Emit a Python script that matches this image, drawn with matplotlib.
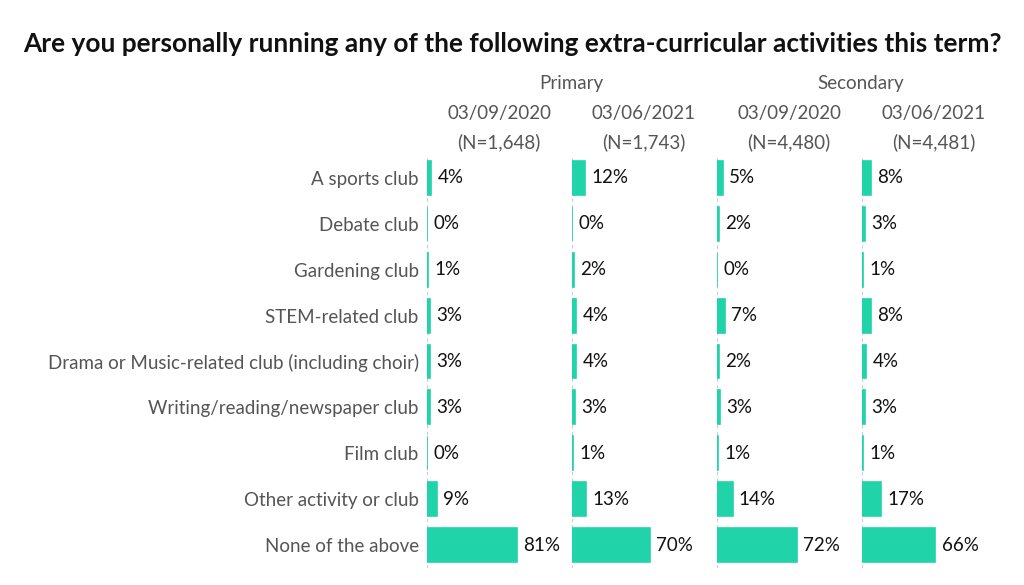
import matplotlib.pyplot as plt

plt.rcParams['font.family'] = ['Lato', 'DejaVu Sans']

activities = [
    "A sports club",
    "Debate club",
    "Gardening club",
    "STEM-related club",
    "Drama or Music-related club (including choir)",
    "Writing/reading/newspaper club",
    "Film club",
    "Other activity or club",
    "None of the above",
]

groups = ["Primary", "Secondary"]
dates = ["03/09/2020", "03/06/2021", "03/09/2020", "03/06/2021"]
sizes = ["(N=1,648)", "(N=1,743)", "(N=4,480)", "(N=4,481)"]

primary_2020 = [4, 0, 1, 3, 3, 3, 0, 9, 81]
primary_2021 = [12, 0, 2, 4, 4, 3, 1, 13, 70]
secondary_2020 = [5, 2, 0, 7, 2, 3, 1, 14, 72]
secondary_2021 = [8, 3, 1, 8, 4, 3, 1, 17, 66]
series = [primary_2020, primary_2021, secondary_2020, secondary_2021]

bar_color = "#21d3a8"
label_gray = "#555555"
fs = 13.5

W, H = 1024, 585
fig = plt.figure(figsize=(W / 100, H / 100), dpi=100)

fig.text(23 / W, 1 - 44 / H,
         "Are you personally running any of the following extra-curricular activities this term?",
         fontsize=18.9, fontweight="bold", ha="left", va="center", color="#111111")

panel_left = 427
panel_step = 145
top, bottom = 155, 568
ypos = list(range(len(activities)))

for i, vals in enumerate(series):
    left = panel_left + panel_step * i
    ax = fig.add_axes([left / W, 1 - bottom / H, panel_step / W, (bottom - top) / H])
    ax.barh(ypos, vals, height=0.74, color=bar_color, edgecolor=bar_color, linewidth=1.2)
    for y, v in zip(ypos, vals):
        ax.annotate(f"{v}%", (v, y), xytext=(4.5, 0), textcoords="offset points",
                    ha="left", va="center", fontsize=fs, color="#111111")
    ax.set_xlim(0, 130.6)
    ax.set_ylim(len(activities) - 0.5, -0.5)
    ax.axvline(0, color="#cccccc", linestyle=(0, (3, 3)), linewidth=0.8, zorder=0)
    for s in ax.spines.values():
        s.set_visible(False)
    ax.set_xticks([])
    if i == 0:
        ax.set_yticks(ypos)
        ax.set_yticklabels(activities, fontsize=fs, color=label_gray)
        ax.tick_params(axis="y", length=0, pad=6)
    else:
        ax.set_yticks([])

    cx = (left + 72) / W
    fig.text(cx, 1 - 114 / H, dates[i], ha="center", va="center",
             fontsize=fs, color=label_gray)
    fig.text(cx, 1 - 142 / H, sizes[i], ha="center", va="center",
             fontsize=fs, color=label_gray)

for g, name in enumerate(groups):
    cx = (panel_left + panel_step * 2 * g + 144) / W
    fig.text(cx, 1 - 84 / H, name, ha="center", va="center",
             fontsize=fs, color=label_gray)

fig.savefig("out.png", dpi=100)
